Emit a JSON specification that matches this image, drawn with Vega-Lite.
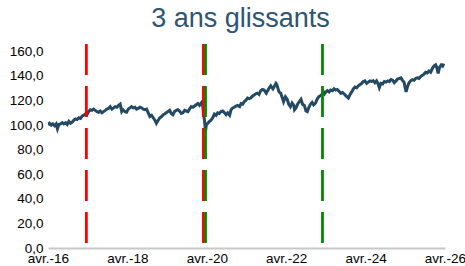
{
  "$schema": "https://vega.github.io/schema/vega-lite/v6.json",
  "autosize": "none",
  "width": 397,
  "height": 204,
  "padding": {"left": 48, "top": 44, "right": 20, "bottom": 18},
  "background": "white",
  "config": {"view": {"stroke": null}, "font": "Liberation Sans"},
  "title": {"text": "3 ans glissants", "fontSize": 27, "font": "Liberation Sans", "fontWeight": "normal", "color": "#2e5572", "anchor": "middle", "dx": -6, "offset": 10},
  "datasets": {
    "serie": [
      {"date": "2016-04-01", "v": 100}, {"date": "2016-04-15", "v": 101.5}, {"date": "2016-05-01", "v": 100}, {"date": "2016-05-15", "v": 101},
      {"date": "2016-06-01", "v": 99.5}, {"date": "2016-06-15", "v": 101}, {"date": "2016-06-27", "v": 97}, {"date": "2016-07-10", "v": 100.5},
      {"date": "2016-07-25", "v": 101}, {"date": "2016-08-10", "v": 102}, {"date": "2016-08-25", "v": 101}, {"date": "2016-09-10", "v": 102},
      {"date": "2016-09-25", "v": 100.5}, {"date": "2016-10-10", "v": 103}, {"date": "2016-10-25", "v": 101.5}, {"date": "2016-11-10", "v": 102.5},
      {"date": "2016-11-25", "v": 104}, {"date": "2016-12-10", "v": 105}, {"date": "2016-12-25", "v": 104.5},
      {"date": "2017-01-10", "v": 106}, {"date": "2017-01-25", "v": 105.5}, {"date": "2017-02-10", "v": 107.5}, {"date": "2017-02-25", "v": 108},
      {"date": "2017-03-10", "v": 109}, {"date": "2017-03-25", "v": 108.5}, {"date": "2017-04-10", "v": 111}, {"date": "2017-04-25", "v": 112.5},
      {"date": "2017-05-10", "v": 112}, {"date": "2017-05-25", "v": 113}, {"date": "2017-06-10", "v": 112}, {"date": "2017-06-25", "v": 111},
      {"date": "2017-07-10", "v": 110.5}, {"date": "2017-07-25", "v": 111.5}, {"date": "2017-08-10", "v": 110}, {"date": "2017-08-25", "v": 111},
      {"date": "2017-09-10", "v": 112}, {"date": "2017-09-25", "v": 113}, {"date": "2017-10-10", "v": 113.5}, {"date": "2017-10-25", "v": 115},
      {"date": "2017-11-10", "v": 113}, {"date": "2017-11-25", "v": 114}, {"date": "2017-12-10", "v": 115}, {"date": "2017-12-25", "v": 114.5},
      {"date": "2018-01-10", "v": 116}, {"date": "2018-01-25", "v": 117}, {"date": "2018-02-08", "v": 111}, {"date": "2018-02-20", "v": 112.5},
      {"date": "2018-03-10", "v": 111}, {"date": "2018-03-25", "v": 110.5}, {"date": "2018-04-10", "v": 113}, {"date": "2018-04-25", "v": 114},
      {"date": "2018-05-10", "v": 115}, {"date": "2018-05-25", "v": 114}, {"date": "2018-06-10", "v": 114.5}, {"date": "2018-06-25", "v": 113},
      {"date": "2018-07-10", "v": 113.5}, {"date": "2018-07-25", "v": 114.5}, {"date": "2018-08-10", "v": 114}, {"date": "2018-08-25", "v": 113},
      {"date": "2018-09-10", "v": 112.5}, {"date": "2018-09-25", "v": 113}, {"date": "2018-10-10", "v": 110}, {"date": "2018-10-25", "v": 107},
      {"date": "2018-11-10", "v": 108}, {"date": "2018-11-25", "v": 106}, {"date": "2018-12-10", "v": 104}, {"date": "2018-12-24", "v": 101.5},
      {"date": "2019-01-10", "v": 104}, {"date": "2019-01-25", "v": 106}, {"date": "2019-02-10", "v": 107}, {"date": "2019-02-25", "v": 108.5},
      {"date": "2019-03-10", "v": 109}, {"date": "2019-03-25", "v": 110}, {"date": "2019-04-10", "v": 111}, {"date": "2019-04-25", "v": 112},
      {"date": "2019-05-10", "v": 109.5}, {"date": "2019-05-25", "v": 108.5}, {"date": "2019-06-10", "v": 111}, {"date": "2019-06-25", "v": 112},
      {"date": "2019-07-10", "v": 112.5}, {"date": "2019-07-25", "v": 111.5}, {"date": "2019-08-10", "v": 109.5}, {"date": "2019-08-25", "v": 110},
      {"date": "2019-09-10", "v": 112}, {"date": "2019-09-25", "v": 111.5}, {"date": "2019-10-10", "v": 111}, {"date": "2019-10-25", "v": 113},
      {"date": "2019-11-10", "v": 115}, {"date": "2019-11-25", "v": 114.5}, {"date": "2019-12-10", "v": 115.5}, {"date": "2019-12-25", "v": 116.5},
      {"date": "2020-01-10", "v": 117.5}, {"date": "2020-01-25", "v": 116}, {"date": "2020-02-10", "v": 118}, {"date": "2020-02-19", "v": 119},
      {"date": "2020-03-01", "v": 110}, {"date": "2020-03-10", "v": 104}, {"date": "2020-03-20", "v": 95}, {"date": "2020-03-27", "v": 100},
      {"date": "2020-04-10", "v": 101.5}, {"date": "2020-04-25", "v": 103}, {"date": "2020-05-10", "v": 104}, {"date": "2020-05-25", "v": 106},
      {"date": "2020-06-10", "v": 109}, {"date": "2020-06-25", "v": 108}, {"date": "2020-07-10", "v": 110}, {"date": "2020-07-25", "v": 109.5},
      {"date": "2020-08-10", "v": 111}, {"date": "2020-08-25", "v": 111.5}, {"date": "2020-09-10", "v": 110}, {"date": "2020-09-25", "v": 108.5},
      {"date": "2020-10-10", "v": 110}, {"date": "2020-10-28", "v": 108}, {"date": "2020-11-10", "v": 112.5}, {"date": "2020-11-25", "v": 114},
      {"date": "2020-12-10", "v": 114.5}, {"date": "2020-12-25", "v": 115.5},
      {"date": "2021-01-10", "v": 116}, {"date": "2021-01-28", "v": 115}, {"date": "2021-02-10", "v": 117.5}, {"date": "2021-02-25", "v": 117},
      {"date": "2021-03-10", "v": 119}, {"date": "2021-03-25", "v": 120}, {"date": "2021-04-10", "v": 122}, {"date": "2021-04-25", "v": 121.5},
      {"date": "2021-05-10", "v": 122}, {"date": "2021-05-25", "v": 123.5}, {"date": "2021-06-10", "v": 124.5}, {"date": "2021-06-25", "v": 125.5},
      {"date": "2021-07-10", "v": 126}, {"date": "2021-07-25", "v": 125}, {"date": "2021-08-10", "v": 128}, {"date": "2021-08-25", "v": 129},
      {"date": "2021-09-10", "v": 128.5}, {"date": "2021-09-30", "v": 126}, {"date": "2021-10-10", "v": 127.5}, {"date": "2021-10-25", "v": 130},
      {"date": "2021-11-10", "v": 132}, {"date": "2021-11-30", "v": 129.5}, {"date": "2021-12-10", "v": 131}, {"date": "2021-12-28", "v": 134},
      {"date": "2022-01-05", "v": 133}, {"date": "2022-01-25", "v": 127}, {"date": "2022-02-10", "v": 126}, {"date": "2022-02-25", "v": 122},
      {"date": "2022-03-08", "v": 119}, {"date": "2022-03-25", "v": 123}, {"date": "2022-04-10", "v": 121}, {"date": "2022-04-25", "v": 117},
      {"date": "2022-05-10", "v": 115}, {"date": "2022-05-25", "v": 118}, {"date": "2022-06-10", "v": 116}, {"date": "2022-06-17", "v": 112.5},
      {"date": "2022-06-30", "v": 114}, {"date": "2022-07-15", "v": 117}, {"date": "2022-07-30", "v": 119}, {"date": "2022-08-15", "v": 121},
      {"date": "2022-08-30", "v": 117}, {"date": "2022-09-15", "v": 116}, {"date": "2022-09-30", "v": 111.5}, {"date": "2022-10-12", "v": 111},
      {"date": "2022-10-25", "v": 114}, {"date": "2022-11-10", "v": 117}, {"date": "2022-11-25", "v": 118.5}, {"date": "2022-12-10", "v": 116.5},
      {"date": "2022-12-28", "v": 118},
      {"date": "2023-01-10", "v": 121}, {"date": "2023-01-25", "v": 123}, {"date": "2023-02-10", "v": 124}, {"date": "2023-02-25", "v": 125},
      {"date": "2023-03-10", "v": 127}, {"date": "2023-03-20", "v": 125.5}, {"date": "2023-04-01", "v": 127}, {"date": "2023-04-15", "v": 128},
      {"date": "2023-05-01", "v": 127}, {"date": "2023-05-15", "v": 128.5}, {"date": "2023-06-01", "v": 128}, {"date": "2023-06-15", "v": 129.5},
      {"date": "2023-07-01", "v": 128.5}, {"date": "2023-07-15", "v": 129}, {"date": "2023-08-01", "v": 127.5}, {"date": "2023-08-15", "v": 126},
      {"date": "2023-09-01", "v": 126.5}, {"date": "2023-09-15", "v": 125.5}, {"date": "2023-10-01", "v": 124}, {"date": "2023-10-25", "v": 122},
      {"date": "2023-11-10", "v": 125}, {"date": "2023-11-25", "v": 127}, {"date": "2023-12-10", "v": 129.5}, {"date": "2023-12-25", "v": 131},
      {"date": "2024-01-10", "v": 130.5}, {"date": "2024-01-25", "v": 132}, {"date": "2024-02-10", "v": 133}, {"date": "2024-02-25", "v": 134},
      {"date": "2024-03-10", "v": 135.5}, {"date": "2024-03-25", "v": 136}, {"date": "2024-04-10", "v": 134}, {"date": "2024-04-25", "v": 135},
      {"date": "2024-05-10", "v": 136}, {"date": "2024-05-25", "v": 135.5}, {"date": "2024-06-10", "v": 136}, {"date": "2024-06-25", "v": 134.5},
      {"date": "2024-07-10", "v": 136}, {"date": "2024-07-25", "v": 133.5}, {"date": "2024-08-05", "v": 130.5}, {"date": "2024-08-20", "v": 134},
      {"date": "2024-09-05", "v": 133.5}, {"date": "2024-09-20", "v": 135.5}, {"date": "2024-10-05", "v": 135}, {"date": "2024-10-20", "v": 136},
      {"date": "2024-11-05", "v": 135.5}, {"date": "2024-11-20", "v": 137}, {"date": "2024-12-05", "v": 136.5}, {"date": "2024-12-20", "v": 134.5},
      {"date": "2025-01-05", "v": 136}, {"date": "2025-01-20", "v": 137.5}, {"date": "2025-02-05", "v": 138}, {"date": "2025-02-20", "v": 138.5},
      {"date": "2025-03-05", "v": 136.5}, {"date": "2025-03-20", "v": 135}, {"date": "2025-04-08", "v": 127}, {"date": "2025-04-20", "v": 131},
      {"date": "2025-05-05", "v": 134.5}, {"date": "2025-05-20", "v": 136}, {"date": "2025-06-05", "v": 137}, {"date": "2025-06-20", "v": 136.5},
      {"date": "2025-07-05", "v": 138}, {"date": "2025-07-20", "v": 138.5}, {"date": "2025-08-05", "v": 138}, {"date": "2025-08-20", "v": 139.5},
      {"date": "2025-09-05", "v": 140.5}, {"date": "2025-09-20", "v": 141.5}, {"date": "2025-10-05", "v": 143}, {"date": "2025-10-20", "v": 142.5},
      {"date": "2025-11-05", "v": 144}, {"date": "2025-11-20", "v": 143}, {"date": "2025-12-05", "v": 146}, {"date": "2025-12-20", "v": 148},
      {"date": "2026-01-05", "v": 149}, {"date": "2026-01-15", "v": 147}, {"date": "2026-01-28", "v": 142}, {"date": "2026-02-10", "v": 147},
      {"date": "2026-02-25", "v": 149}, {"date": "2026-03-10", "v": 148}, {"date": "2026-03-22", "v": 150}
    ],
    "reperes": [
      {"date": "2017-03-20", "c": "rouge"},
      {"date": "2020-03-01", "c": "rouge"},
      {"date": "2020-03-20", "c": "vert"},
      {"date": "2023-03-01", "c": "vert"}
    ]
  },
  "layer": [
    {
      "data": {"name": "serie"},
      "mark": {"type": "line", "color": "#234a62", "strokeWidth": 3, "clip": true},
      "encoding": {
        "x": {"field": "date", "type": "temporal",
          "scale": {"domain": ["2016-04-01", "2026-04-01"], "nice": false},
          "axis": {"title": null, "values": ["2016-04-01", "2018-04-01", "2020-04-01", "2022-04-01", "2024-04-01", "2026-04-01"],
            "labelExpr": "'avr.-' + timeFormat(datum.value, '%y')", "ticks": false, "grid": false,
            "domainColor": "#c8c8c8", "domainWidth": 2, "labelFontSize": 13.5, "labelColor": "#000000",
            "labelPadding": 3, "labelFont": "Liberation Sans", "labelOverlap": false, "labelFlush": false}},
        "y": {"field": "v", "type": "quantitative",
          "scale": {"domain": [0, 166], "nice": false, "zero": true},
          "axis": {"title": null, "values": [0, 20, 40, 60, 80, 100, 120, 140, 160], "domain": false, "ticks": false, "grid": false,
            "labelExpr": "replace(format(datum.value, '.1f'), '.', ',')", "labelFontSize": 13.5, "labelColor": "#000000",
            "labelPadding": 5, "labelFont": "Liberation Sans"}}
      }
    },
    {
      "data": {"name": "reperes"},
      "mark": {"type": "rule", "strokeWidth": 2.8, "strokeDash": [31, 11]},
      "encoding": {
        "x": {"field": "date", "type": "temporal"},
        "color": {"field": "c", "type": "nominal", "scale": {"domain": ["rouge", "vert"], "range": ["#ff0000", "#008a00"]}, "legend": null}
      }
    }
  ]
}
